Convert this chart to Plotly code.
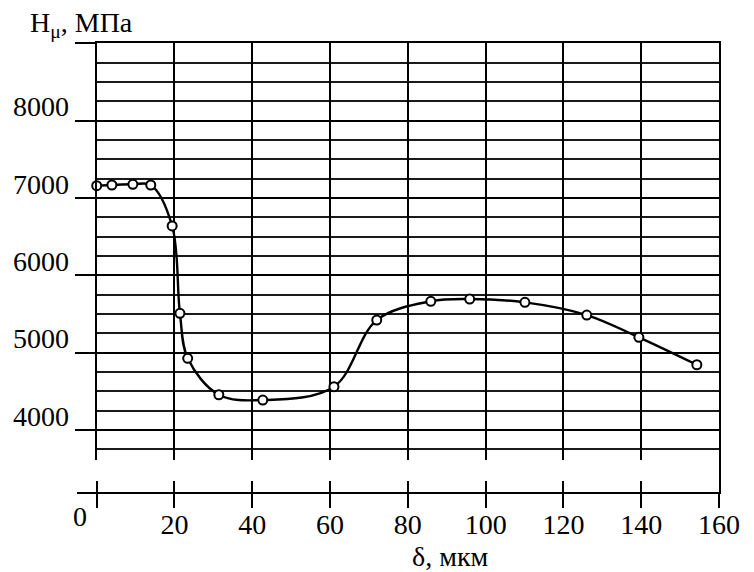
import plotly.graph_objects as go

# Microhardness profile across the layer depth
depth_um = [0, 3.9, 9.3, 13.9, 19.4, 21.4, 23.4, 31.4, 42.7, 61.0,
            72.0, 85.9, 95.9, 110.1, 126.0, 139.4, 154.3]
hardness_mpa = [7158, 7167, 7176, 7167, 6637, 5507, 4925, 4454, 4385, 4558,
                5420, 5662, 5692, 5649, 5485, 5197, 4842]

x_ticks = [0, 20, 40, 60, 80, 100, 120, 140, 160]
x_tick_text = ["", "20", "40", "60", "80", "100", "120", "140", "160"]
y_major = [4000, 5000, 6000, 7000, 8000, 9000]
y_major_text = ["4000", "5000", "6000", "7000", "8000", ""]

FONT = "Liberation Serif, DejaVu Serif, Noto Serif"
W, H = 754, 572

# pixel geometry of the frame
px_x0, px_x160 = 96.7, 719.0
px_left_ext = 76.7
scale = (px_x160 - px_x0) / 160.0
x2_min = -(px_x0 - px_left_ext) / scale

top_px, grid_bottom_px, axis_px = 43.3, 460.0, 492.0
y_min, y_max = 3610, 9000

def fx(p):
    return p / W

def fy(p):
    return (H - p) / H

fig = go.Figure()

fig.add_trace(go.Scatter(
    x=depth_um, y=hardness_mpa,
    mode="lines+markers",
    line=dict(color="black", width=2.4, shape="spline", smoothing=1.0),
    marker=dict(symbol="circle", size=9, color="white",
                line=dict(color="black", width=2)),
    xaxis="x", yaxis="y", showlegend=False, cliponaxis=False,
))

# invisible points that activate the lower (broken) axis subplot
fig.add_trace(go.Scatter(x=[0], y=[0], mode="markers", marker=dict(opacity=0),
                         xaxis="x2", yaxis="y2", showlegend=False, hoverinfo="skip"))
fig.add_trace(go.Scatter(x=[0], y=[0], mode="markers", marker=dict(opacity=0),
                         xaxis="x3", yaxis="y2", showlegend=False, hoverinfo="skip"))

fig.update_layout(
    width=W, height=H,
    template="none",
    margin=dict(l=0, r=0, t=0, b=0),
    paper_bgcolor="white", plot_bgcolor="rgba(0,0,0,0)",
    font=dict(family=FONT, size=28, color="black"),
    xaxis=dict(
        domain=[fx(px_x0), fx(px_x160)], range=[0, 160], anchor="y",
        side="top", showline=True, linecolor="black", linewidth=2,
        tickvals=x_ticks, showticklabels=False, ticks="",
        showgrid=True, gridcolor="black", gridwidth=2,
        zeroline=False, automargin=False,
    ),
    yaxis=dict(
        domain=[fy(grid_bottom_px), fy(top_px)], range=[y_min, y_max], anchor="x",
        showline=True, mirror=True, linecolor="black", linewidth=2,
        tickvals=y_major, ticktext=y_major_text,
        ticks="outside", ticklen=20, tickwidth=2, tickcolor="black",
        ticklabelshift=-14, ticklabelstandoff=0,
        showgrid=True, gridcolor="black", gridwidth=2,
        minor=dict(dtick=250, tick0=0, showgrid=True, gridcolor="#1a1a1a", gridwidth=1.6, ticks=""),
        zeroline=False, automargin=False,
        tickfont=dict(family=FONT, size=28, color="black"),
    ),
    xaxis2=dict(
        domain=[fx(px_left_ext), fx(px_x160)], range=[x2_min, 160], anchor="y2",
        tickvals=x_ticks, ticktext=x_tick_text,
        ticks="outside", ticklen=14, tickwidth=2, tickcolor="black",
        ticklabelstandoff=-8,
        showline=True, linecolor="black", linewidth=2,
        showgrid=False, zeroline=False, automargin=False,
        tickfont=dict(family=FONT, size=28, color="black"),
    ),
    xaxis3=dict(
        overlaying="x2", range=[x2_min, 160], anchor="y2",
        tickvals=x_ticks, showticklabels=False,
        ticks="inside", ticklen=11, tickwidth=2, tickcolor="black",
        showline=False, showgrid=False, zeroline=False, automargin=False,
    ),
    yaxis2=dict(
        domain=[fy(axis_px), fy(grid_bottom_px)], range=[0, 1], anchor="x2",
        side="right", showline=True, linecolor="black", linewidth=2,
        showticklabels=False, ticks="", showgrid=False, zeroline=False,
        automargin=False,
    ),
    annotations=[
        dict(text="H<sub>μ</sub>, МПа", x=fx(28), y=fy(24), xref="paper", yref="paper",
             xanchor="left", yanchor="middle", showarrow=False,
             font=dict(family=FONT, size=28, color="black")),
        dict(text="0", x=fx(79.5), y=fy(516), xref="paper", yref="paper",
             xanchor="center", yanchor="middle", showarrow=False,
             font=dict(family=FONT, size=28, color="black")),
        dict(text="δ, мкм", x=fx(450), y=fy(556), xref="paper", yref="paper",
             xanchor="center", yanchor="middle", showarrow=False,
             font=dict(family=FONT, size=28, color="black")),
    ],
)

fig.write_html("out.html")
